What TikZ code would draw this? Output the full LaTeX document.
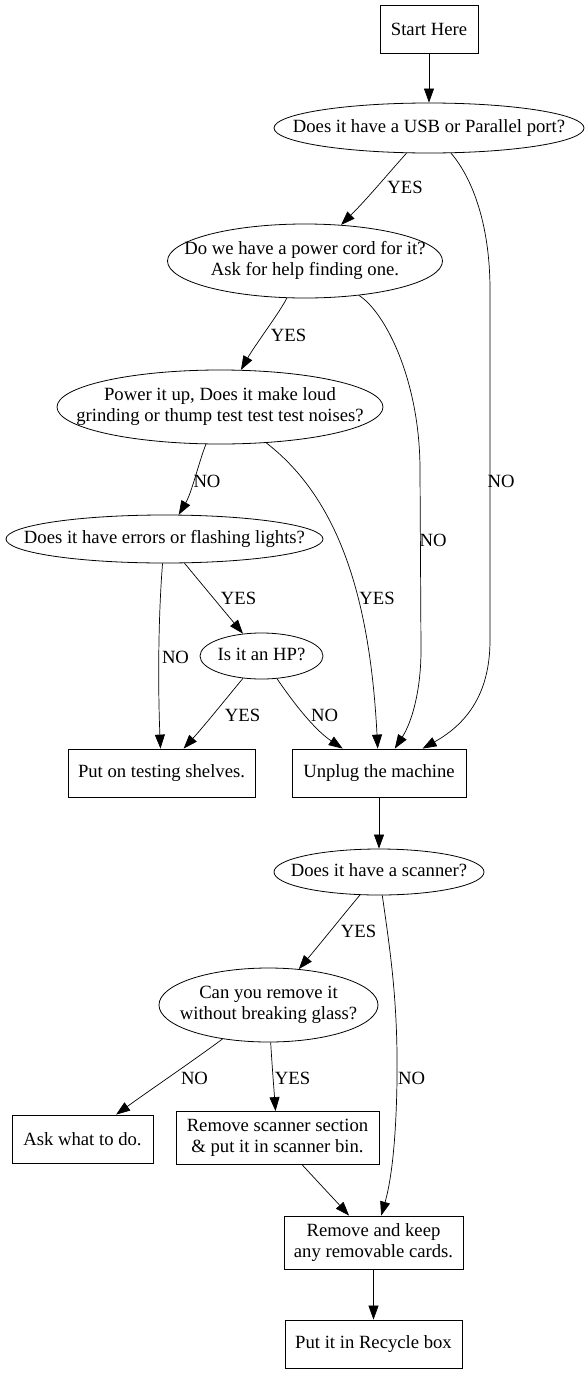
\documentclass[tikz,border=0pt]{standalone}
\usepackage{fontspec}
\setmainfont{Liberation Serif}
\usetikzlibrary{shapes.geometric,arrows.meta}
\newcommand{\etxt}[1]{\makebox[0pt]{\begin{tabular}{@{}c@{}}#1\end{tabular}}}
\begin{document}
\begin{tikzpicture}[x=1pt,y=-1pt,
  every node/.style={font=\fontsize{18.67pt}{21pt}\selectfont},
  box/.style={draw,rectangle,inner sep=0pt,align=center,line width=0.8pt},
  dec/.style={draw,ellipse,inner sep=0pt,line width=0.8pt},
  lbl/.style={inner sep=0pt},
  arr/.style={-{Triangle[length=14pt,width=10pt]},line width=0.7pt}]
\useasboundingbox (0,0) rectangle (588,1373);
% nodes
\node[box,minimum width=98pt,minimum height=48pt] (start) at (429,29) {Start Here};
\node[dec,minimum width=310pt,minimum height=50pt] (usb) at (429,128) {\etxt{Does it have a USB or Parallel port?}};
\node[dec,minimum width=275pt,minimum height=74pt] (cord) at (305,261) {\etxt{Do we have a power cord for it?\\Ask for help finding one.}};
\node[dec,minimum width=326pt,minimum height=74pt] (pu) at (220,407) {\etxt{Power it up, Does it make loud\\grinding or thump test test test noises?}};
\node[dec,minimum width=317pt,minimum height=48pt] (err) at (164.5,539) {\etxt{Does it have errors or flashing lights?}};
\node[dec,minimum width=123pt,minimum height=46pt] (hp) at (261.5,656) {\etxt{Is it an HP?}};
\node[box,minimum width=187pt,minimum height=48pt] (test) at (161.5,773) {Put on testing shelves.};
\node[box,minimum width=174pt,minimum height=48pt] (unplug) at (379,773) {Unplug the machine};
\node[dec,minimum width=210pt,minimum height=46pt] (scan) at (379,872) {\etxt{Does it have a scanner?}};
\node[dec,minimum width=219pt,minimum height=74pt] (remit) at (268.5,1005) {\etxt{Can you remove it\\without breaking glass?}};
\node[box,minimum width=141pt,minimum height=48pt] (ask) at (82.5,1139) {Ask what to do.};
\node[box,minimum width=203pt,minimum height=53pt] (sect) at (277.5,1138) {Remove scanner section\\\& put it in scanner bin.};
\node[box,minimum width=179pt,minimum height=53pt] (remkeep) at (373.5,1242.5) {Remove and keep\\any removable cards.};
\node[box,minimum width=177pt,minimum height=48pt] (recycle) at (373.5,1344) {Put it in Recycle box};
% edges
\draw[arr] (start) -- (usb);
\draw[arr] (usb) .. controls (387,175) and (367,199) .. (cord);
\draw[arr] (usb) .. controls (470,175) and (490,220) .. (490,290) -- (490,640) .. controls (490,690) and (470,722) .. (unplug);
\draw[arr] (cord) .. controls (280,312) and (255,345) .. (pu);
\draw[arr] (cord) .. controls (385,312) and (420,380) .. (420,470) -- (421,650) .. controls (421,690) and (412,722) .. (unplug);
\draw[arr] (pu) .. controls (198,465) and (192,492) .. (err);
\draw[arr] (pu) .. controls (340,500) and (370,600) .. (unplug);
\draw[arr] (err) .. controls (158,620) and (158,690) .. (test);
\draw[arr] (err) .. controls (205,588) and (225,612) .. (hp);
\draw[arr] (hp) .. controls (225,700) and (205,725) .. (test);
\draw[arr] (hp) .. controls (295,705) and (315,730) .. (unplug);
\draw[arr] (unplug) -- (scan);
\draw[arr] (scan) .. controls (340,919) and (320,944) .. (remit);
\draw[arr] (scan) .. controls (390,950) and (398,1000) .. (397,1080) .. controls (396,1150) and (390,1185) .. (remkeep);
\draw[arr] (remit) .. controls (190,1063) and (150,1090) .. (ask);
\draw[arr] (remit) .. controls (272,1065) and (274,1090) .. (sect);
\draw[arr] (sect) .. controls (318,1182) and (334,1199) .. (remkeep);
\draw[arr] (remkeep) -- (recycle);
% labels
\node[lbl] (l1) at (405,187) {YES};
\node[lbl] (l2) at (501,481) {NO};
\node[lbl] (l3) at (288.5,335) {YES};
\node[lbl] (l4) at (433,540) {NO};
\node[lbl] (l5) at (207,481) {NO};
\node[lbl] (l6) at (377,598) {YES};
\node[lbl] (l7) at (175.5,657) {NO};
\node[lbl] (l8) at (238.5,598) {YES};
\node[lbl] (l9) at (242.5,715) {YES};
\node[lbl] (l10) at (324.5,715) {NO};
\node[lbl] (l11) at (358.5,931) {YES};
\node[lbl] (l12) at (411.5,1078) {NO};
\node[lbl] (l13) at (194.5,1078) {NO};
\node[lbl] (l14) at (292.5,1078) {YES};
\end{tikzpicture}
\end{document}
